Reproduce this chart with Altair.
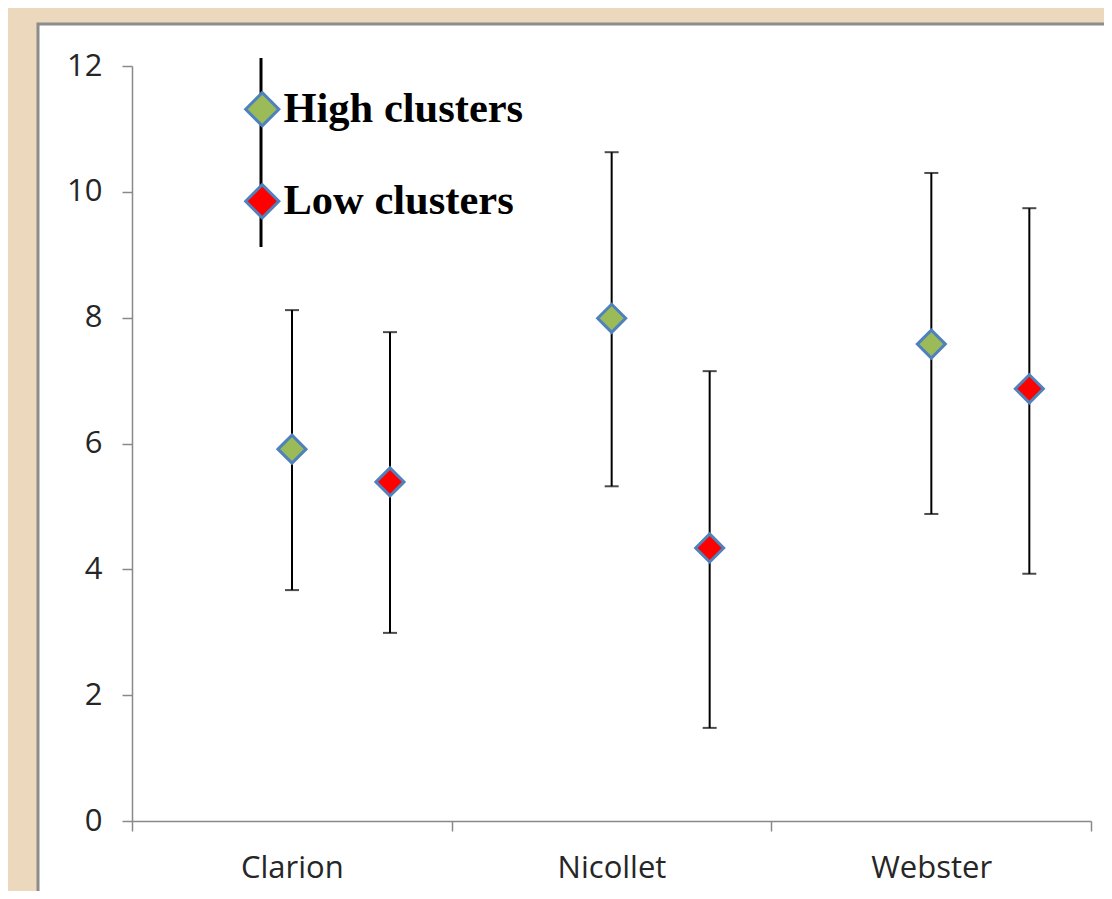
import altair as alt
import pandas as pd

counties = ["Clarion", "Nicollet", "Webster"]
series_names = ["High clusters", "Low clusters"]
high_mean = [5.91, 7.99, 7.58]
high_upper = [8.12, 10.63, 10.30]
high_lower = [3.67, 5.32, 4.88]
low_mean = [5.39, 4.34, 6.87]
low_upper = [7.77, 7.15, 9.74]
low_lower = [2.99, 1.48, 3.93]
y_ticks = [0, 2, 4, 6, 8, 10, 12]

rows = []
for i, c in enumerate(counties):
    rows.append({"county": c, "series": series_names[0], "mean": high_mean[i],
                 "lower": high_lower[i], "upper": high_upper[i]})
    rows.append({"county": c, "series": series_names[1], "mean": low_mean[i],
                 "lower": low_lower[i], "upper": low_upper[i]})
df = pd.DataFrame(rows)

AX = "#898989"
x_enc = alt.X("county:N", sort=counties,
              scale=alt.Scale(paddingInner=0, paddingOuter=0),
              axis=alt.Axis(title=None, labelAngle=0, tickBand="extent",
                            domainColor=AX, tickColor=AX, tickSize=10,
                            domainWidth=1.5, tickWidth=1.5,
                            labelFont="Open Sans", labelFontSize=31,
                            labelColor="#262626", labelPadding=22, zindex=1))
xoff_enc = alt.XOffset("series:N",
                       scale=alt.Scale(type="point", domain=series_names,
                                       range=[160, 258], padding=0))
y_scale = alt.Scale(domain=[0, 12], nice=False)

base = alt.Chart(df)

panel = alt.Chart(alt.Data(values=[{}])).mark_rect(
    fill="white", stroke="#8c8c8c", strokeWidth=3, clip=False
).encode(x=alt.value(-94), x2=alt.value(1100), y=alt.value(-42), y2=alt.value(900))

bars = base.mark_rule(color="black", strokeWidth=2).encode(
    x=x_enc, xOffset=xoff_enc,
    y=alt.Y("lower:Q", scale=y_scale,
            axis=alt.Axis(title=None, values=y_ticks, format="d", grid=False,
                          domainColor=AX, tickColor=AX, tickSize=10,
                          domainWidth=1.5, tickWidth=1.5,
                          labelFont="Open Sans", labelFontSize=31,
                          labelColor="#262626", labelPadding=20, zindex=1)),
    y2="upper:Q")

cap_up = base.mark_tick(color="black", size=14, thickness=2).encode(
    x=x_enc, xOffset=xoff_enc, y=alt.Y("upper:Q", scale=y_scale))
cap_lo = base.mark_tick(color="black", size=14, thickness=2).encode(
    x=x_enc, xOffset=xoff_enc, y=alt.Y("lower:Q", scale=y_scale))

legend_line = alt.Chart(alt.Data(values=[{}])).mark_rule(
    color="black", strokeWidth=3, clip=False
).encode(x=alt.value(129), y=alt.value(-8), y2=alt.value(181))

points = base.mark_point(shape="diamond", filled=True, size=784, opacity=1,
                         stroke="#4F81BD", strokeWidth=3).encode(
    x=x_enc, xOffset=xoff_enc,
    y=alt.Y("mean:Q", scale=y_scale),
    fill=alt.Fill("series:N",
                  scale=alt.Scale(domain=series_names, range=["#9BBB59", "#FF0000"]),
                  legend=alt.Legend(title=None, orient="none", legendX=109, legendY=22,
                                    symbolType="diamond", symbolSize=1100,
                                    symbolStrokeColor="#4F81BD", symbolStrokeWidth=3,
                                    symbolOpacity=1,
                                    labelFont="Liberation Serif", labelFontWeight="bold",
                                    labelFontSize=42.5, labelColor="black", labelLimit=0,
                                    labelOffset=0, rowPadding=46, padding=0, zindex=2)))

chart = alt.layer(panel, bars, cap_up, cap_lo, legend_line, points).properties(
    width=959, height=755,
    autosize=alt.AutoSizeParams(type="none"),
    padding={"left": 124, "top": 58, "right": 13, "bottom": 70},
    background="#ECD9BD",
).configure_view(stroke=None)

chart.save("out.html", embed_options={"renderer": "svg", "actions": False})
